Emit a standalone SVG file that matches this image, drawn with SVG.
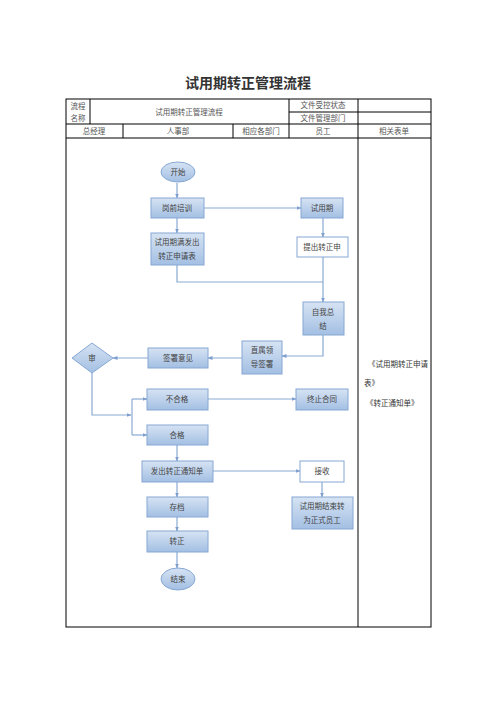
<svg xmlns="http://www.w3.org/2000/svg" width="496" height="702" viewBox="0 0 496 702">
<defs>
<linearGradient id="g" x1="0" y1="0" x2="0" y2="1">
<stop offset="0" stop-color="#d6e3f3"/>
<stop offset="1" stop-color="#a3bfe3"/>
</linearGradient>
<marker id="ah" viewBox="0 0 10 10" refX="9" refY="5" markerWidth="5" markerHeight="5" orient="auto" markerUnits="userSpaceOnUse">
<path d="M0,1 L10,5 L0,9 Z" fill="#7f9fcf"/>
</marker>
</defs>
<style>
.t{font-family:"Noto Sans CJK SC",sans-serif;fill:#333;}
.tab{font-size:7.5px;text-anchor:middle;fill:#555;}
.n{fill:url(#g);stroke:#86a8d4;stroke-width:1;}
.w{fill:#fff;stroke:#86a8d4;stroke-width:1;}
.nt{font-size:7.5px;text-anchor:middle;fill:#444;}
.c{fill:none;stroke:#8aaad4;stroke-width:1.2;}
.ca{fill:none;stroke:#8aaad4;stroke-width:1.2;marker-end:url(#ah);}
.b{fill:none;stroke:#000;stroke-width:1;}
</style>
<rect width="496" height="702" fill="#fff"/>
<text class="t" x="248" y="88" font-size="14" font-weight="bold" text-anchor="middle" fill="#111">试用期转正管理流程</text>
<g id="table">
<rect class="b" x="66" y="99" width="365" height="528"/>
<line class="b" x1="66" y1="124" x2="431" y2="124"/>
<line class="b" x1="66" y1="138" x2="431" y2="138"/>
<line class="b" x1="289" y1="112" x2="431" y2="112"/>
<line class="b" x1="90" y1="99" x2="90" y2="124"/>
<line class="b" x1="289" y1="99" x2="289" y2="138"/>
<line class="b" x1="358" y1="99" x2="358" y2="627"/>
<line class="b" x1="123" y1="124" x2="123" y2="138"/>
<line class="b" x1="233" y1="124" x2="233" y2="138"/>
<text class="t tab" x="78" y="109">流程</text>
<text class="t tab" x="78" y="121">名称</text>
<text class="t tab" x="189" y="115">试用期转正管理流程</text>
<text class="t tab" x="323" y="108">文件受控状态</text>
<text class="t tab" x="323" y="121">文件管理部门</text>
<text class="t tab" x="94" y="134">总经理</text>
<text class="t tab" x="178" y="134">人事部</text>
<text class="t tab" x="261" y="134">相应各部门</text>
<text class="t tab" x="323" y="134">员工</text>
<text class="t tab" x="394" y="134">相关表单</text>
<text class="t" x="368" y="367" font-size="7.5" fill="#555">《试用期转正申请</text>
<text class="t" x="364" y="386" font-size="7.5" fill="#555">表》</text>
<text class="t" x="366" y="406" font-size="7.5" fill="#555">《转正通知单》</text>
</g>
<g id="connectors">
<line class="ca" x1="177" y1="183" x2="177" y2="198"/>
<line class="ca" x1="204" y1="208" x2="301" y2="208"/>
<line class="ca" x1="177" y1="218" x2="177" y2="233"/>
<line class="ca" x1="323" y1="218" x2="323" y2="237"/>
<polyline class="c" points="177,265 177,282 323,282"/>
<line class="ca" x1="323" y1="257" x2="323" y2="302"/>
<polyline class="ca" points="323,335 323,356 282,356"/>
<line class="ca" x1="242" y1="358" x2="208" y2="358"/>
<line class="ca" x1="148" y1="358" x2="113" y2="358"/>
<polyline class="ca" points="92,373 92,415 131,415"/>
<line class="c" x1="132" y1="399" x2="132" y2="435"/>
<line class="ca" x1="132" y1="399" x2="147" y2="399"/>
<line class="ca" x1="132" y1="435" x2="147" y2="435"/>
<line class="ca" x1="208" y1="399" x2="296" y2="399"/>
<line class="ca" x1="177" y1="445" x2="177" y2="461"/>
<line class="ca" x1="213" y1="471" x2="300" y2="471"/>
<line class="ca" x1="322" y1="482" x2="322" y2="497"/>
<line class="ca" x1="177" y1="482" x2="177" y2="497"/>
<line class="ca" x1="177" y1="517" x2="177" y2="531"/>
<line class="ca" x1="177" y1="552" x2="177" y2="568"/>
</g>
<g id="start"><ellipse class="n" cx="178" cy="172" rx="17" ry="10"/><text class="t nt" x="178" y="175">开始</text></g>
<g id="training"><rect class="n" x="151" y="198" width="53" height="20"/><text class="t nt" x="177" y="211">岗前培训</text></g>
<g id="probation"><rect class="n" x="301" y="198" width="42" height="20"/><text class="t nt" x="322" y="211">试用期</text></g>
<g id="apply-form"><rect class="n" x="151" y="233" width="53" height="32"/><text class="t nt" x="177" y="245">试用期满发出</text><text class="t nt" x="177" y="259">转正申请表</text></g>
<g id="submit"><rect class="w" x="297" y="237" width="51" height="20"/><text class="t nt" x="322" y="250">提出转正申</text></g>
<g id="summary"><rect class="n" x="303" y="302" width="41" height="33"/><text class="t nt" x="323" y="315">自我总</text><text class="t nt" x="323" y="329">结</text></g>
<g id="leader"><rect class="n" x="242" y="341" width="40" height="33"/><text class="t nt" x="262" y="353">直属领</text><text class="t nt" x="262" y="367">导签署</text></g>
<g id="opinion"><rect class="n" x="148" y="348" width="60" height="20"/><text class="t nt" x="178" y="361">签署意见</text></g>
<g id="review"><polygon class="n" points="92,343 113,358 92,373 72,358"/><text class="t nt" x="92" y="361">审</text></g>
<g id="fail"><rect class="n" x="147" y="389" width="61" height="21"/><text class="t nt" x="177" y="402">不合格</text></g>
<g id="terminate"><rect class="n" x="296" y="389" width="52" height="21"/><text class="t nt" x="322" y="402">终止合同</text></g>
<g id="pass"><rect class="n" x="147" y="425" width="61" height="20"/><text class="t nt" x="177" y="438">合格</text></g>
<g id="notice"><rect class="n" x="142" y="461" width="71" height="21"/><text class="t nt" x="177" y="474">发出转正通知单</text></g>
<g id="receive"><rect class="w" x="300" y="461" width="44" height="21"/><text class="t nt" x="322" y="474">接收</text></g>
<g id="formal"><rect class="n" x="292" y="497" width="61" height="32"/><text class="t nt" x="322" y="509">试用期结束转</text><text class="t nt" x="322" y="523">为正式员工</text></g>
<g id="archive"><rect class="n" x="147" y="497" width="61" height="20"/><text class="t nt" x="177" y="510">存档</text></g>
<g id="confirm"><rect class="n" x="147" y="531" width="61" height="21"/><text class="t nt" x="177" y="544">转正</text></g>
<g id="end"><ellipse class="n" cx="178" cy="579" rx="17" ry="11"/><text class="t nt" x="178" y="582">结束</text></g>
</svg>
